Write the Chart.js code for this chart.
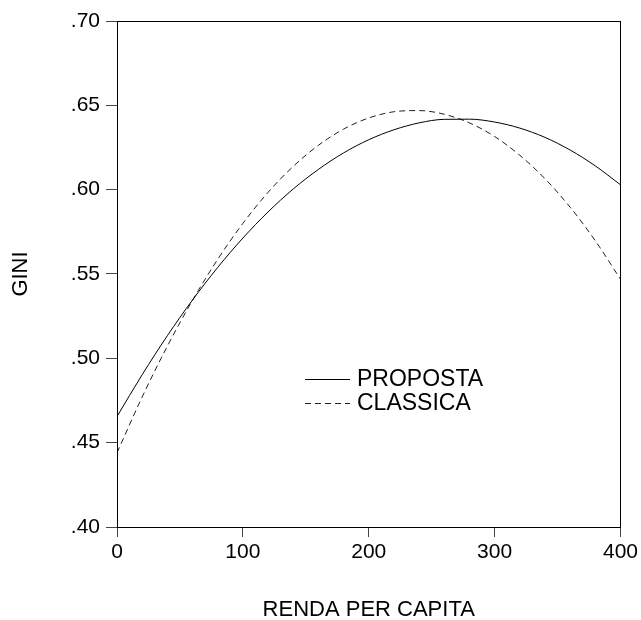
<!DOCTYPE html>
<html>
<head>
<meta charset="utf-8">
<script src="https://cdn.jsdelivr.net/npm/chart.js@4/dist/chart.umd.min.js"></script>
<style>
  html, body { margin: 0; padding: 0; background: #fff; }
  #box { width: 641px; height: 620px; position: relative; }
</style>
</head>
<body>
<div id="box"><canvas id="giniChart"></canvas></div>
<script>
/* dados */
const renda = [0, 20, 40, 60, 80, 100, 120, 140, 160, 180, 200,
  220, 240, 260, 280, 300, 320, 340, 360, 380, 400];

const proposta = [0.4655, 0.4903, 0.5134, 0.5346, 0.5539, 0.5713, 0.5868, 0.6004, 0.6120, 0.6218, 0.6296,
  0.6355, 0.6396, 0.6417, 0.6418, 0.6401, 0.6365, 0.6310, 0.6235, 0.6141, 0.6029];

const classica = [0.4440, 0.4771, 0.5072, 0.5344, 0.5587, 0.5800, 0.5984, 0.6138, 0.6263, 0.6359, 0.6425,
  0.6462, 0.6469, 0.6447, 0.6396, 0.6315, 0.6204, 0.6065, 0.5896, 0.5697, 0.5469];

const yTicks = [0.40, 0.45, 0.50, 0.55, 0.60, 0.65, 0.70];
const xTicks = [0, 100, 200, 300, 400];

const fonte = 'Liberation Sans, Arial, sans-serif';

function pontos(serie) {
  return serie.map((v, i) => ({ x: renda[i], y: v }));
}

/* moldura em volta da área do gráfico */
const moldura = {
  id: 'moldura',
  afterDatasetsDraw(chart) {
    const { ctx, chartArea: a } = chart;
    ctx.save();
    ctx.strokeStyle = '#000';
    ctx.lineWidth = 1;
    ctx.strokeRect(Math.round(a.left) + 0.5, Math.round(a.top) + 0.5,
      Math.round(a.right - a.left), Math.round(a.bottom - a.top));
    ctx.restore();
  }
};

/* legenda dentro do gráfico */
const legendaInterna = {
  id: 'legendaInterna',
  afterDatasetsDraw(chart) {
    const { ctx, chartArea: a } = chart;
    const x0 = a.left + 188;
    let y = 379;
    ctx.save();
    ctx.font = '23px ' + fonte;
    ctx.textBaseline = 'middle';
    ctx.fillStyle = '#000';
    chart.data.datasets.forEach(ds => {
      ctx.beginPath();
      ctx.strokeStyle = ds.borderColor;
      ctx.lineWidth = 1;
      ctx.setLineDash(ds.borderDash || []);
      ctx.moveTo(x0, y + 0.5);
      ctx.lineTo(x0 + 45, y + 0.5);
      ctx.stroke();
      ctx.setLineDash([]);
      ctx.fillText(ds.label, x0 + 52, y + 1);
      y += 24;
    });
    ctx.restore();
  }
};

new Chart(document.getElementById('giniChart'), {
  type: 'line',
  data: {
    datasets: [
      {
        label: 'PROPOSTA',
        data: pontos(proposta),
        borderColor: '#000',
        borderWidth: 1,
        pointRadius: 0,
        cubicInterpolationMode: 'monotone',
        fill: false
      },
      {
        label: 'CLASSICA',
        data: pontos(classica),
        borderColor: '#222',
        borderWidth: 1,
        borderDash: [6, 4],
        pointRadius: 0,
        cubicInterpolationMode: 'monotone',
        fill: false
      }
    ]
  },
  options: {
    responsive: true,
    maintainAspectRatio: false,
    animation: false,
    layout: { padding: { top: 21, right: 20, left: 0, bottom: 0 } },
    plugins: {
      legend: { display: false },
      tooltip: { enabled: false }
    },
    scales: {
      x: {
        type: 'linear',
        min: 0,
        max: 400,
        afterFit(scale) { scale.height = 93; },
        afterBuildTicks(scale) { scale.ticks = xTicks.map(v => ({ value: v })); },
        ticks: {
          color: '#000',
          font: { family: fonte, size: 21 },
          padding: 3,
          maxRotation: 0
        },
        grid: { drawOnChartArea: false, drawTicks: true, tickLength: 10, color: '#444' },
        border: { display: true, color: '#000' },
        title: {
          display: true,
          text: 'RENDA PER CAPITA',
          color: '#000',
          font: { family: fonte, size: 22, lineHeight: 1 },
          padding: { top: 0, bottom: -1 }
        }
      },
      y: {
        min: 0.40,
        max: 0.70,
        afterFit(scale) { scale.width = 117; },
        afterBuildTicks(scale) { scale.ticks = yTicks.map(v => ({ value: v })); },
        ticks: {
          color: '#000',
          font: { family: fonte, size: 21 },
          padding: 6,
          callback: v => Number(v).toFixed(2).replace(/^0/, '')
        },
        grid: { drawOnChartArea: false, drawTicks: true, tickLength: 11, color: '#444' },
        border: { display: true, color: '#000' },
        title: {
          display: true,
          text: 'GINI',
          color: '#000',
          font: { family: fonte, size: 22, lineHeight: 1 },
          padding: { top: 10, bottom: 0 }
        }
      }
    }
  },
  plugins: [moldura, legendaInterna]
});
</script>
</body>
</html>
